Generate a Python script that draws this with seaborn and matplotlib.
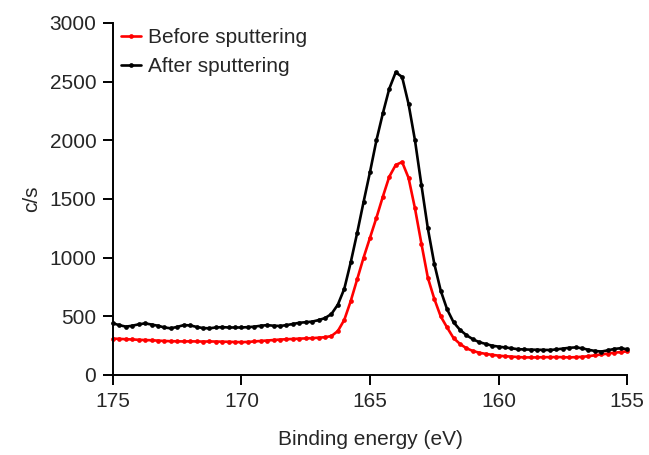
import numpy as np
import pandas as pd
import matplotlib
matplotlib.use("Agg")
import matplotlib.pyplot as plt
import seaborn as sns

# Binding energy grid (eV), 175 -> 155 in 0.25 eV steps
energy = [175.0 - 0.25 * i for i in range(81)]

before = [
    310, 308, 305, 303, 300, 298, 296, 293, 290, 288,
    287, 286, 287, 286, 285, 286, 285, 284, 283, 281,
    280, 282, 286, 290, 294, 298, 302, 305, 307, 310,
    312, 314, 318, 322, 332, 375, 470, 630, 815, 1000,
    1170, 1340, 1520, 1690, 1790, 1815, 1680, 1420, 1120, 830,
    650, 500, 405, 315, 265, 228, 205, 190, 180, 172,
    165, 160, 157, 153, 150, 150, 150, 152, 152, 153,
    152, 150, 152, 155, 160, 168, 175, 182, 190, 195,
    202,
]

after = [
    440, 425, 412, 420, 432, 440, 430, 420, 405, 398,
    410, 425, 423, 410, 400, 398, 405, 408, 405, 405,
    405, 408, 412, 420, 425, 420, 418, 425, 435, 445,
    450, 455, 468, 485, 520, 600, 735, 960, 1210, 1475,
    1730, 2000, 2230, 2440, 2580, 2540, 2310, 2000, 1620, 1250,
    950, 720, 560, 450, 385, 340, 305, 280, 265, 250,
    242, 235, 228, 220, 218, 216, 215, 214, 213, 218,
    225, 232, 235, 228, 215, 205, 200, 210, 222, 228,
    220,
]

series_names = ["Before sputtering", "After sputtering"]
series_colors = ["#ff0000", "#000000"]
x_ticks = [175, 170, 165, 160, 155]
y_ticks = [0, 500, 1000, 1500, 2000, 2500, 3000]

df = pd.concat([
    pd.DataFrame({"energy": energy, "cps": before, "series": series_names[0]}),
    pd.DataFrame({"energy": energy, "cps": after, "series": series_names[1]}),
])

sns.set_style("ticks")
plt.rcParams["font.family"] = ["Liberation Sans", "DejaVu Sans"]
plt.rcParams["font.size"] = 15

fig = plt.figure(figsize=(6.49, 4.55), dpi=100)
ax = fig.add_axes([113 / 649, 80 / 455, 514 / 649, 352 / 455])

sns.lineplot(
    data=df, x="energy", y="cps", hue="series",
    hue_order=series_names, palette=dict(zip(series_names, series_colors)),
    marker="o", markersize=3.4, markeredgewidth=0, linewidth=1.9,
    ax=ax, clip_on=False,
)

ax.set_xlim(175, 155)
ax.set_ylim(0, 3000)
ax.set_xticks(x_ticks)
ax.set_yticks(y_ticks)
ax.set_xlabel("Binding energy (eV)", fontsize=15, labelpad=14)
ax.set_ylabel("c/s", fontsize=15, labelpad=6)
ax.tick_params(axis="both", direction="out", length=7, width=1.4, labelsize=15, pad=5, color="black")
for s in ["top", "right"]:
    ax.spines[s].set_visible(False)
for s in ["left", "bottom"]:
    ax.spines[s].set_linewidth(1.4)
    ax.spines[s].set_color("black")

leg = ax.legend(
    loc="upper left", bbox_to_anchor=(0.0, 1.01), frameon=False,
    fontsize=15, handlelength=0.95, handletextpad=0.35, labelspacing=0.5,
    borderaxespad=0.0,
)

fig.savefig("out.png", dpi=100)
